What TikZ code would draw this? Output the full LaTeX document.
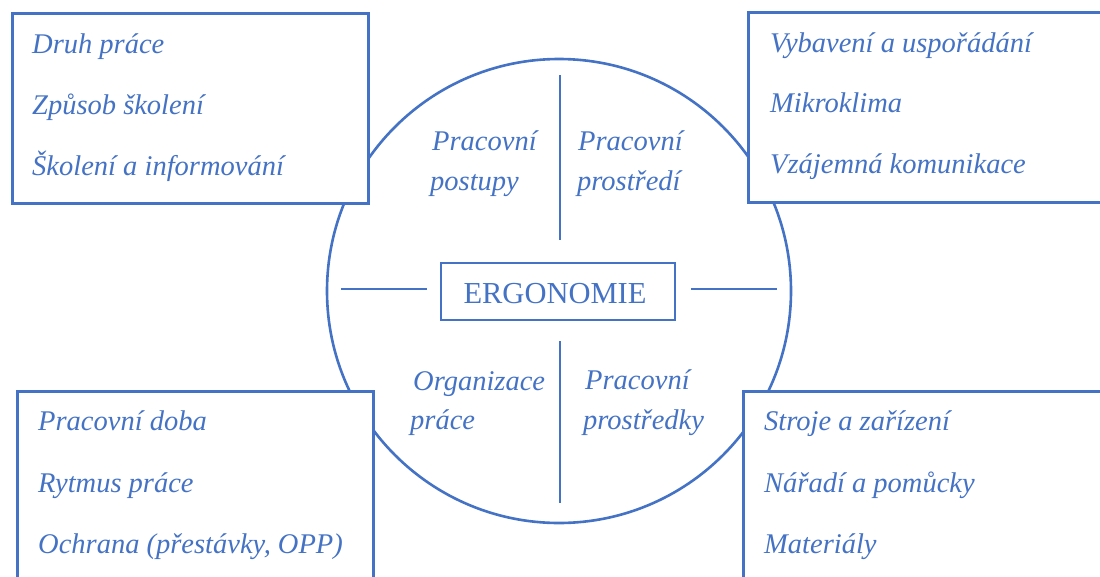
\documentclass[tikz,border=0pt]{standalone}
\usepackage{fontspec}
\setmainfont{Liberation Serif}
\definecolor{ergblue}{HTML}{4472C4}
\tikzset{
  outerbox/.style={draw=ergblue, line width=3pt, fill=white, rectangle, inner sep=0pt},
  item/.style={anchor=base west, inner sep=0pt, text=ergblue, font=\fontsize{28.5}{34}\selectfont\itshape},
  spoke/.style={draw=ergblue, line width=1.6pt},
  ring/.style={draw=ergblue, line width=2.6pt},
}
\begin{document}
\begin{tikzpicture}[x=1pt,y=-1pt]
\useasboundingbox (0,0) rectangle (1100,576);
\clip (0,0) rectangle (1100,576);
% circle
\node[ring, circle, minimum size=464pt, inner sep=0pt] (c) at (559,291) {};
% spokes
\coordinate (vt1) at (560,75);  \coordinate (vt2) at (560,240);
\coordinate (vb1) at (560,341); \coordinate (vb2) at (560,503);
\coordinate (hl1) at (341,289); \coordinate (hl2) at (427,289);
\coordinate (hr1) at (691,289); \coordinate (hr2) at (777,289);
\draw[spoke] (vt1) -- (vt2);
\draw[spoke] (vb1) -- (vb2);
\draw[spoke] (hl1) -- (hl2);
\draw[spoke] (hr1) -- (hr2);
% centre box
\node[draw=ergblue, line width=2.8pt, rectangle, minimum width=234pt, minimum height=57pt, inner sep=0pt] (erg) at (558,291.5) {};
\node[anchor=base, inner sep=0pt, text=ergblue, font=\fontsize{30.5}{36}\selectfont] (ergt) at (555,303) {ERGONOMIE};
% quadrant labels
\node[item] (q1a) at (432,150) {Pracovní};
\node[item] (q1b) at (430,190) {postupy};
\node[item] (q2a) at (578,150) {Pracovní};
\node[item] (q2b) at (577,190) {prostředí};
\node[item] (q3a) at (413,390) {Organizace};
\node[item] (q3b) at (410,429) {práce};
\node[item] (q4a) at (585,389) {Pracovní};
\node[item] (q4b) at (583,429) {prostředky};
% outer boxes
\node[outerbox, minimum width=356pt, minimum height=190pt] (tl) at (190,108) {};
\node[outerbox, minimum width=362pt, minimum height=190pt] (tr) at (929,107) {};
\node[outerbox, minimum width=356pt, minimum height=200pt] (bl) at (195,491) {};
\node[outerbox, minimum width=367pt, minimum height=200pt] (br) at (926.5,491) {};
% box texts
\node[item] (tl1) at (32,53) {Druh práce};
\node[item] (tl2) at (32,114) {Způsob školení};
\node[item] (tl3) at (32,175) {Školení a informování};
\node[item] (tr1) at (770,52) {Vybavení a uspořádání};
\node[item] (tr2) at (770,112) {Mikroklima};
\node[item] (tr3) at (770,173) {Vzájemná komunikace};
\node[item] (bl1) at (38,430) {Pracovní doba};
\node[item] (bl2) at (38,492) {Rytmus práce};
\node[item] (bl3) at (38,553) {Ochrana (přestávky, OPP)};
\node[item] (br1) at (764,430) {Stroje a zařízení};
\node[item] (br2) at (764,492) {Nářadí a pomůcky};
\node[item] (br3) at (764,553) {Materiály};
\end{tikzpicture}
\end{document}
